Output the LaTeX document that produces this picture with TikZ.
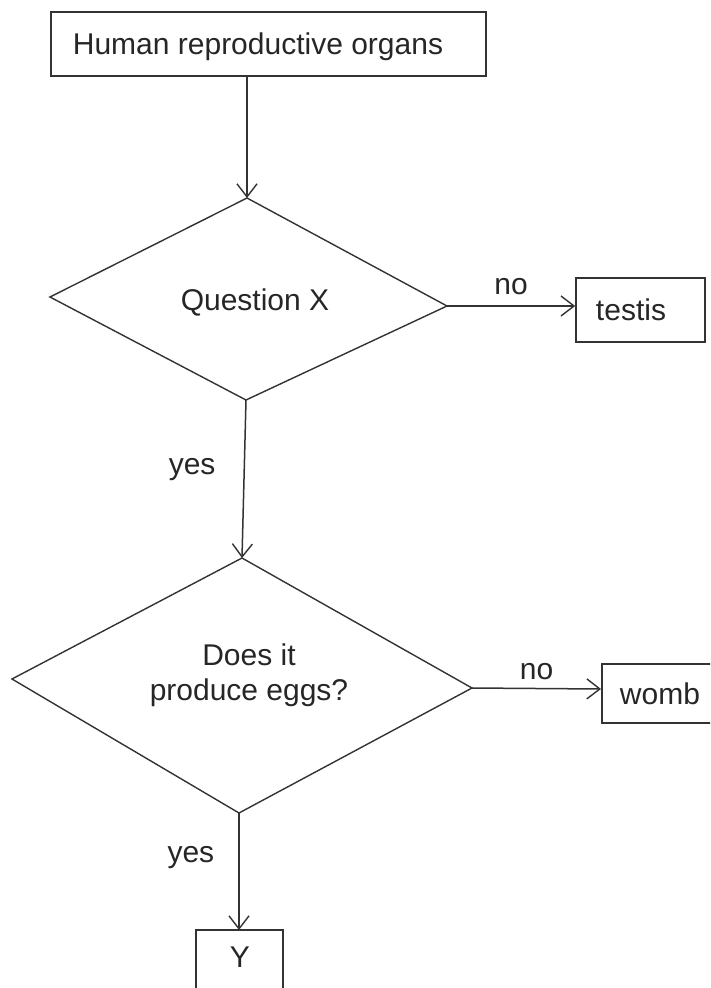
\documentclass[tikz,border=0pt]{standalone}
\usepackage{fontspec}
\setmainfont{Liberation Sans}
\usetikzlibrary{arrows.meta}
\begin{document}
\begin{tikzpicture}[x=1pt,y=-1pt,
  every node/.style={font=\fontsize{30}{35}\selectfont, text=black!85},
  boxline/.style={draw=black!80, line width=1.7pt},
  flow/.style={draw=black!80, line width=1.5pt, -{Straight Barb[length=13pt,width=20pt,line width=1.4pt]}},
  lbl/.style={inner sep=0pt}]
\useasboundingbox (0,0) rectangle (710,988);
\clip (0,0) rectangle (710,988);

% start box
\node[boxline, minimum width=435pt, minimum height=64pt, inner sep=0pt] (start) at (268.5,44) {};
\node[lbl] (starttxt) at (258,47) {Human reproductive organs};

% first decision
\coordinate (q1t) at (247,198);
\coordinate (q1l) at (50,297);
\coordinate (q1r) at (447,306);
\coordinate (q1b) at (246,400);
\draw[draw=black!80, line width=1.4pt] (q1t) -- (q1r) -- (q1b) -- (q1l) -- cycle;
\node[lbl] (q1) at (255,302) {Question X};

% testis box
\node[boxline, minimum width=129pt, minimum height=64pt, inner sep=0pt] (testis) at (640.5,310) {};
\node[lbl] (testistxt) at (631,310) {testis};

% second decision
\coordinate (q2t) at (242,558);
\coordinate (q2l) at (12,679);
\coordinate (q2r) at (472,688);
\coordinate (q2b) at (239,813);
\draw[draw=black!80, line width=1.4pt] (q2t) -- (q2r) -- (q2b) -- (q2l) -- cycle;
\node[lbl, align=center, font=\fontsize{30}{35}\selectfont] (q2) at (249,675) {Does it\\produce eggs?};

% womb box (runs past the right edge)
\coordinate (wombl) at (601,689);
\draw[boxline] (730,664) -- (602,664) -- (602,723) -- (730,723);
\node[lbl] (womb) at (660,694) {womb};

% Y box (runs past the bottom edge)
\coordinate (yt) at (239,930);
\draw[boxline] (196,1010) -- (196,930) -- (283,930) -- (283,1010);
\node[lbl] (ylab) at (240,957) {Y};

% connectors
\draw[flow] (start.south -| q1t) -- (q1t);
\draw[flow] (q1r) -- (q1r -| testis.west) node[lbl, midway, above=10pt] (no1) {no};
\draw[flow] (q1b) -- (q2t) node[lbl, pos=0.44, left=28pt] (yes1) {yes};
\draw[flow] (q2r) -- (wombl) node[lbl, midway, above=8pt] (no2) {no};
\draw[flow] (q2b) -- (yt) node[lbl, pos=0.38, left=24pt] (yes2) {yes};
\end{tikzpicture}
\end{document}
